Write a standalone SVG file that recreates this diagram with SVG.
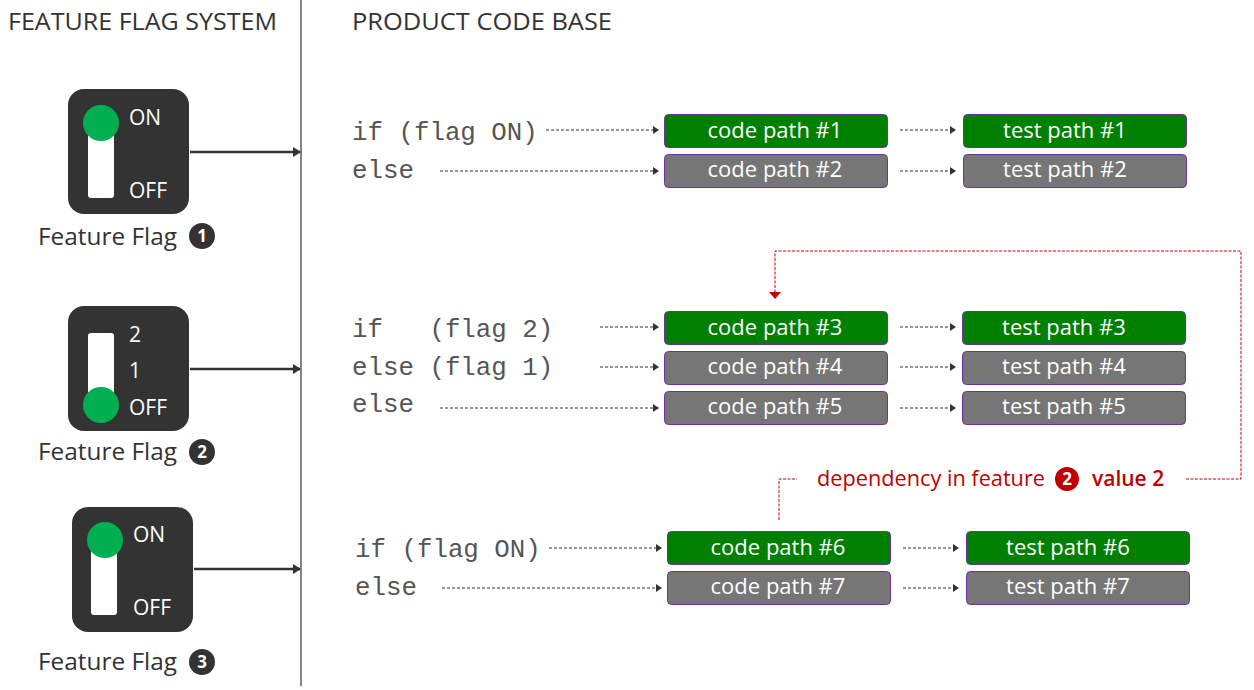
<svg xmlns="http://www.w3.org/2000/svg" width="1254" height="690" viewBox="0 0 1254 690">
<defs>
<style>
.hd{font-family:"Open Sans","Noto Sans",sans-serif;font-size:24px;fill:#333}
.lbl{font-family:"Open Sans","Noto Sans",sans-serif;font-size:24px;fill:#333}
.sw{fill:#333}
.trk{fill:#fff}
.knob{fill:#00b050}
.swt{font-family:"Open Sans","Noto Sans",sans-serif;font-size:21px;fill:#fff}
.num{fill:#333}
.numt{font-family:"Open Sans","Noto Sans",sans-serif;font-size:17px;font-weight:bold;fill:#fff;text-anchor:middle}
.code{font-family:"Liberation Mono","DejaVu Sans Mono",monospace;font-size:25.8px;fill:#555;white-space:pre}
.on{fill:#008000;stroke:#7030a0;stroke-width:1}
.off{fill:#767676;stroke:#7030a0;stroke-width:1}
.bt{font-family:"Open Sans","Noto Sans",sans-serif;font-size:22px;fill:#fff;text-anchor:middle}
.da{stroke:#333;stroke-width:1;stroke-dasharray:3 2;fill:none;marker-end:url(#ah)}
.sa{stroke:#333;stroke-width:2.5;fill:none;marker-end:url(#ah2)}
.red{stroke:#c00000;stroke-width:1;stroke-dasharray:3 1.5;fill:none}
.redt{font-family:"Open Sans","Noto Sans",sans-serif;font-size:21px;fill:#c00000}
</style>
<marker id="ah" markerWidth="6" markerHeight="8" refX="5" refY="4" orient="auto" markerUnits="userSpaceOnUse"><path d="M0,0 L6,4 L0,8 Z" fill="#333"/></marker>
<marker id="ah2" markerWidth="8" markerHeight="10" refX="7" refY="5" orient="auto" markerUnits="userSpaceOnUse"><path d="M0,0 L8,5 L0,10 Z" fill="#333"/></marker>
<marker id="ahr" markerWidth="7" markerHeight="12" refX="6" refY="6" orient="auto" markerUnits="userSpaceOnUse"><path d="M0,0 L7,6 L0,12 Z" fill="#c00000"/></marker>
</defs>
<rect width="1254" height="690" fill="#fff"/>
<line x1="301" y1="0" x2="301" y2="686" stroke="#333" stroke-width="1.2"/>
<text class="hd" x="8" y="30" textLength="269" lengthAdjust="spacingAndGlyphs">FEATURE FLAG SYSTEM</text>
<text class="hd" x="352" y="30" textLength="260" lengthAdjust="spacingAndGlyphs">PRODUCT CODE BASE</text>

<g id="flag1">
<rect class="sw" x="68" y="89" width="121" height="125" rx="16"/>
<rect class="trk" x="88" y="130" width="26" height="68" rx="3"/>
<circle class="knob" cx="101" cy="123" r="18"/>
<text class="swt" x="129" y="125">ON</text>
<text class="swt" x="129" y="198">OFF</text>
<text class="lbl" x="38" y="245" textLength="139" lengthAdjust="spacingAndGlyphs">Feature Flag</text>
<circle class="num" cx="202" cy="236" r="13"/>
<text class="numt" x="202" y="242">1</text>
</g>

<g id="flag2">
<rect class="sw" x="68" y="306" width="121" height="125" rx="16"/>
<rect class="trk" x="88" y="333" width="26" height="70" rx="3"/>
<circle class="knob" cx="101" cy="405" r="18"/>
<text class="swt" x="129" y="342">2</text>
<text class="swt" x="129" y="378">1</text>
<text class="swt" x="129" y="415">OFF</text>
<text class="lbl" x="38" y="460" textLength="139" lengthAdjust="spacingAndGlyphs">Feature Flag</text>
<circle class="num" cx="202" cy="452" r="13"/>
<text class="numt" x="202" y="458">2</text>
</g>

<g id="flag3">
<rect class="sw" x="72" y="507" width="121" height="125" rx="16"/>
<rect class="trk" x="91" y="548" width="26" height="67" rx="3"/>
<circle class="knob" cx="105" cy="540" r="18"/>
<text class="swt" x="133" y="542">ON</text>
<text class="swt" x="133" y="615">OFF</text>
<text class="lbl" x="38" y="670" textLength="139" lengthAdjust="spacingAndGlyphs">Feature Flag</text>
<circle class="num" cx="202" cy="662" r="13"/>
<text class="numt" x="202" y="668">3</text>
</g>

<g id="code1">
<text class="code" x="352" y="140" xml:space="preserve">if (flag ON)</text>
<text class="code" x="352" y="178">else</text>
</g>
<g id="code2">
<text class="code" x="352" y="337" xml:space="preserve">if   (flag 2)</text>
<text class="code" x="352" y="375" xml:space="preserve">else (flag 1)</text>
<text class="code" x="352" y="412">else</text>
</g>
<g id="code3">
<text class="code" x="355" y="557" xml:space="preserve">if (flag ON)</text>
<text class="code" x="355" y="595">else</text>
</g>

<g id="cp1"><rect class="on" x="664.5" y="114.5" width="223" height="33" rx="4"/><text class="bt" x="775" y="138">code path #1</text></g>
<g id="cp2"><rect class="off" x="664.5" y="154.5" width="223" height="33" rx="4"/><text class="bt" x="775" y="177">code path #2</text></g>
<g id="tp1"><rect class="on" x="963.5" y="114.5" width="223" height="33" rx="4"/><text class="bt" x="1065" y="138">test path #1</text></g>
<g id="tp2"><rect class="off" x="963.5" y="154.5" width="223" height="33" rx="4"/><text class="bt" x="1065" y="177">test path #2</text></g>

<g id="cp3"><rect class="on" x="664.5" y="311.5" width="223" height="33" rx="4"/><text class="bt" x="775" y="335">code path #3</text></g>
<g id="cp4"><rect class="off" x="664.5" y="351.5" width="223" height="33" rx="4"/><text class="bt" x="775" y="374">code path #4</text></g>
<g id="cp5"><rect class="off" x="664.5" y="391.5" width="223" height="33" rx="4"/><text class="bt" x="775" y="414">code path #5</text></g>
<g id="tp3"><rect class="on" x="962.5" y="311.5" width="223" height="33" rx="4"/><text class="bt" x="1064" y="335">test path #3</text></g>
<g id="tp4"><rect class="off" x="962.5" y="351.5" width="223" height="33" rx="4"/><text class="bt" x="1064" y="374">test path #4</text></g>
<g id="tp5"><rect class="off" x="962.5" y="391.5" width="223" height="33" rx="4"/><text class="bt" x="1064" y="414">test path #5</text></g>

<g id="cp6"><rect class="on" x="667.5" y="531.5" width="223" height="33" rx="4"/><text class="bt" x="778" y="555">code path #6</text></g>
<g id="cp7"><rect class="off" x="667.5" y="571.5" width="223" height="33" rx="4"/><text class="bt" x="778" y="594">code path #7</text></g>
<g id="tp6"><rect class="on" x="966.5" y="531.5" width="223" height="33" rx="4"/><text class="bt" x="1068" y="555">test path #6</text></g>
<g id="tp7"><rect class="off" x="966.5" y="571.5" width="223" height="33" rx="4"/><text class="bt" x="1068" y="594">test path #7</text></g>

<g id="dep-label">
<text class="redt" x="817" y="486" textLength="228" lengthAdjust="spacingAndGlyphs">dependency in feature</text>
<circle cx="1067" cy="479" r="12" fill="#c00000"/>
<text class="numt" x="1067" y="485">2</text>
<text class="redt" x="1092" y="486" font-weight="600" font-size="17">value 2</text>
</g>

<g id="connectors">
<line class="sa" x1="190" y1="152" x2="300" y2="152"/>
<line class="sa" x1="190" y1="369" x2="300" y2="369"/>
<line class="sa" x1="194" y1="569" x2="300" y2="569"/>

<line class="da" x1="546" y1="130" x2="658" y2="130"/>
<line class="da" x1="440" y1="171" x2="658" y2="171"/>
<line class="da" x1="900" y1="130" x2="955" y2="130"/>
<line class="da" x1="900" y1="171" x2="955" y2="171"/>

<line class="da" x1="600" y1="327" x2="658" y2="327"/>
<line class="da" x1="600" y1="367" x2="658" y2="367"/>
<line class="da" x1="440" y1="408" x2="658" y2="408"/>
<line class="da" x1="900" y1="327" x2="955" y2="327"/>
<line class="da" x1="900" y1="367" x2="955" y2="367"/>
<line class="da" x1="900" y1="408" x2="955" y2="408"/>

<line class="da" x1="549" y1="548" x2="661" y2="548"/>
<line class="da" x1="442" y1="588" x2="661" y2="588"/>
<line class="da" x1="903" y1="548" x2="958" y2="548"/>
<line class="da" x1="903" y1="588" x2="958" y2="588"/>

<polyline class="red" points="779,520 779,479 797,479"/>
<polyline class="red" points="1186,479 1241,479 1241,251 775,251 775,298" marker-end="url(#ahr)"/>
</g>
</svg>
